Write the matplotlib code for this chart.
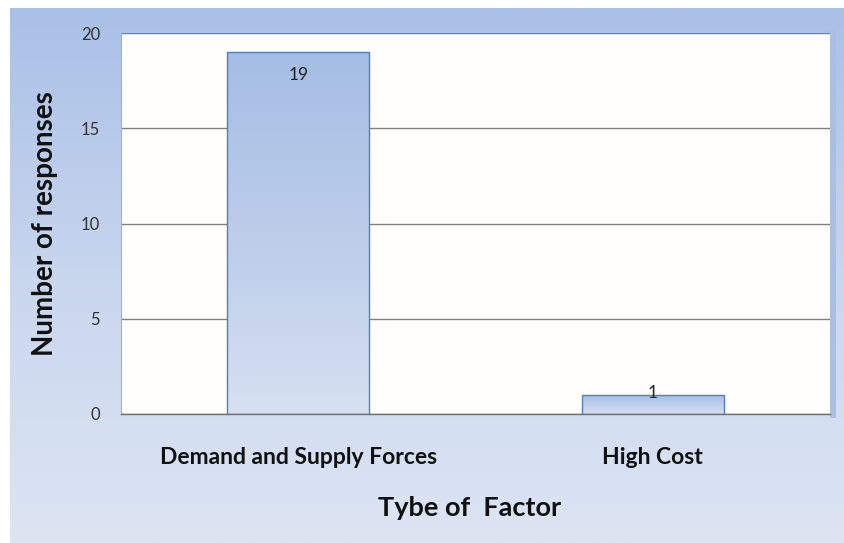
import numpy as np
import matplotlib.pyplot as plt
from matplotlib.colors import LinearSegmentedColormap

plt.rcParams['font.family'] = ['Lato', 'DejaVu Sans']

# chart data
factors = ['Demand and Supply Forces', 'High Cost']
responses = [19, 1]
yticks = [0, 5, 10, 15, 20]

W, H = 844, 543
fig = plt.figure(figsize=(W / 100, H / 100), dpi=100, facecolor='white')

# blue gradient backdrop of the chart area
bg = fig.add_axes([10 / W, 0, (W - 10) / W, (H - 8) / H])
bg_cmap = LinearSegmentedColormap.from_list('bg', ['#a9c0e7', '#c8d6ee', '#dde5f3'])
grad = np.linspace(0, 1, 256).reshape(-1, 1)
bg.imshow(grad, aspect='auto', cmap=bg_cmap, extent=[0, 1, 0, 1], origin='upper')
bg.set_axis_off()

# soft shadow at the right of the plot area
sh = fig.add_axes([830 / W, (H - 418) / H, 6 / W, 388 / H])
sh.set_facecolor('#aabfe2')
sh.set_xticks([])
sh.set_yticks([])
for s in sh.spines.values():
    s.set_visible(False)

ax = fig.add_axes([121 / W, (H - 414) / H, 709 / W, 381 / H])
ax.set_facecolor('#fffefc')

x = np.arange(len(factors))
bars = ax.bar(x, responses, width=0.4, facecolor='none', edgecolor='#4f7fbd',
              linewidth=1.0, zorder=3)

bar_cmap = LinearSegmentedColormap.from_list('bar', ['#a5bde4', '#bccdea', '#d6e0f1'])
for b in bars:
    x0, w, h = b.get_x(), b.get_width(), b.get_height()
    im = ax.imshow(grad, aspect='auto', cmap=bar_cmap, origin='upper',
                   extent=[x0, x0 + w, 0, h], zorder=2)
    im.set_clip_path(b)

for b, v in zip(bars, responses):
    off = -23 if v > 2 else 2
    ax.annotate(str(v), (b.get_x() + b.get_width() / 2, v), xytext=(0, off),
                textcoords='offset pixels', ha='center', va='center',
                fontsize=12.5, color='#222222', zorder=4)

ax.set_xlim(-0.5, len(factors) - 0.5)
ax.set_ylim(0, 20)
ax.set_yticks(yticks)
ax.set_yticklabels([str(t) for t in yticks], fontsize=12, color='#333333')
ax.set_xticks(x)
ax.set_xticklabels(factors, fontsize=16.5, fontweight='bold', color='#111111')
ax.tick_params(axis='y', length=0, pad=15)
ax.tick_params(axis='x', length=0, pad=24)
ax.grid(axis='y', color='#7f7f7f', linewidth=1.0, zorder=1)
ax.set_axisbelow(True)

for s in ['top', 'right']:
    ax.spines[s].set_visible(False)
ax.spines['left'].set_color('#b0b0b0')
ax.spines['bottom'].set_color('#6f6f6f')
ax.spines['bottom'].set_linewidth(1.0)
ax.axhline(20, color='#7f7f7f', linewidth=1.5, zorder=1)

ax.set_ylabel('Number of responses', fontsize=20, fontweight='bold', color='#111111', va='center')
ax.yaxis.set_label_coords((45 - 121) / 709, 0.5)
ax.set_xlabel('Tybe of  Factor', fontsize=19.5, fontweight='bold', color='#111111', va='center')
ax.xaxis.set_label_coords((470 - 121) / 709, (414 - 508) / 381)

fig.savefig('out.png', dpi=100, facecolor='white')
